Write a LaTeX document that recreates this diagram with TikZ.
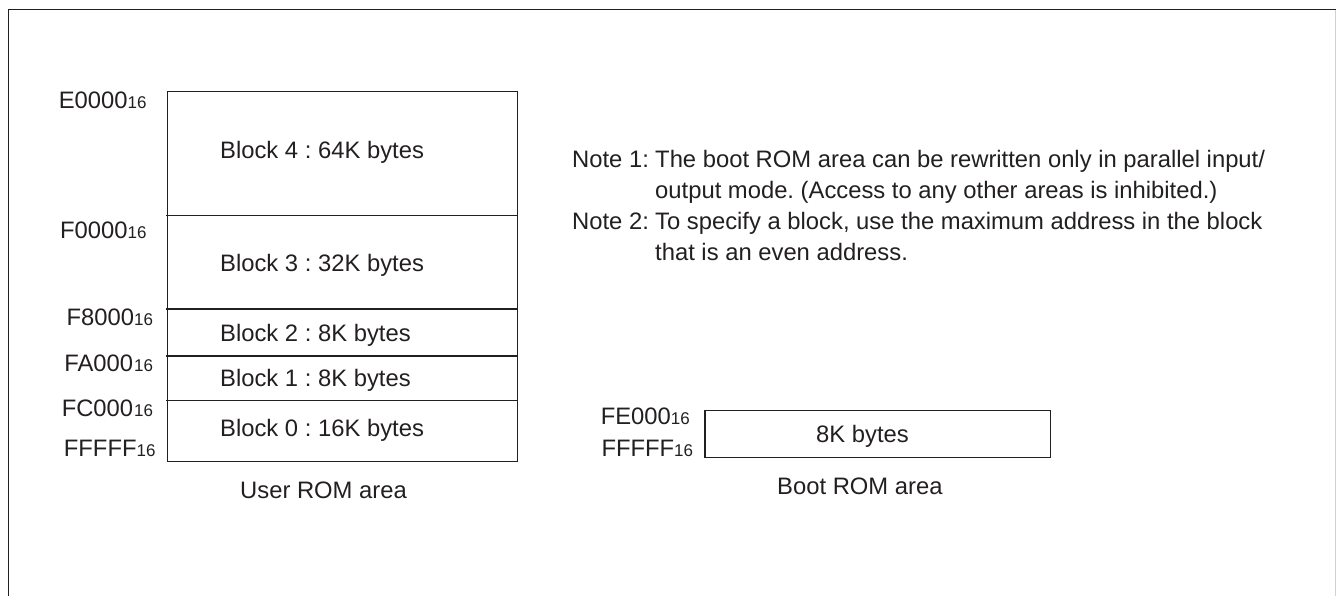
\documentclass[tikz,border=0pt]{standalone}
\usepackage{fontspec}
\setmainfont{Liberation Sans}
\definecolor{ink}{HTML}{231F20}
\newcommand\hx[1]{{\fontsize{17}{20}\selectfont #1}}
\frenchspacing
\begin{document}
\frenchspacing
\begin{tikzpicture}[x=1pt,y=-1pt,
  txt/.style={inner sep=0pt, text=ink, font=\fontsize{23.8}{28}\selectfont\frenchspacing},
  lbl/.style={txt, anchor=base east},
  bt/.style={txt, anchor=base west},
  box/.style={draw=ink, line width=1.2pt}]
\useasboundingbox (0,0) rectangle (1336,596);
% outer frame
\draw[ink, line width=1pt] (8.5,596) -- (8.5,10) -- (1336,10);
\draw[gray!35, line width=1pt] (1335.5,10) -- (1335.5,596);
% user ROM
\coordinate (utl) at (167.5,91.7);
\coordinate (ubr) at (517.7,461.7);
\draw[box] (utl) rectangle (ubr);
\draw[box] (166,215.7) -- (517.7,215.7);
\draw[box] (166,309) -- (517.7,309);
\draw[box] (166,356) -- (517.7,356);
\draw[box] (166,400.7) -- (517.7,400.7);
\node[bt] (b4) at (220,159) {Block 4 : 64K bytes};
\node[bt] (b3) at (220,271.7) {Block 3 : 32K bytes};
\node[bt] (b2) at (220,341.7) {Block 2 : 8K bytes};
\node[bt] (b1) at (220,386.7) {Block 1 : 8K bytes};
\node[bt] (b0) at (220,436.7) {Block 0 : 16K bytes};
\node[lbl] (aE) at (146.7,108.3) {E0000\hx{16}};
\node[lbl] (aF0) at (146.7,238.3) {F0000\hx{16}};
\node[lbl] (aF8) at (153.3,325) {F8000\hx{16}};
\node[lbl] (aFA) at (153.3,371.7) {FA000\kern1pt\hx{16}};
\node[lbl] (aFC) at (153.3,416.7) {FC000\kern1pt\hx{16}};
\node[lbl] (aFF) at (155.7,456) {FFFFF\hx{16}};
\node[bt] (uarea) at (240,498.3) {User ROM area};
% boot ROM
\coordinate (btl) at (705,410.7);
\coordinate (bbr) at (1050.7,457.7);
\draw[box] (btl) rectangle (bbr);
\node[bt] (bk) at (816,442.7) {8K bytes};
\node[lbl] (aFE) at (690,424.3) {FE000\hx{16}};
\node[lbl] (aFF2) at (693.3,456.7) {FFFFF\hx{16}};
\node[bt] (barea) at (777,494.3) {Boot ROM area};
% notes
\node[bt] (n1) at (572,167.3) {Note 1:};
\node[bt] (n1a) at (655,167.3) {The boot ROM area can be rewritten only in parallel input/};
\node[bt] (n1b) at (655,198.3) {output mode. (Access to any other areas is inhibited.)};
\node[bt] (n2) at (572,229.3) {Note 2:};
\node[bt] (n2a) at (655,229.3) {To specify a block, use the maximum address in the block};
\node[bt] (n2b) at (655,260) {that is an even address.};
\end{tikzpicture}
\end{document}
